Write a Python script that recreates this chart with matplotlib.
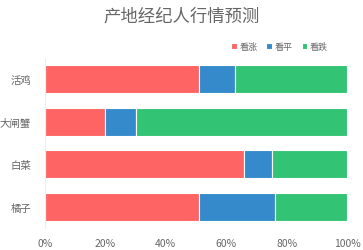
import matplotlib
matplotlib.use("Agg")
import matplotlib.pyplot as plt
import numpy as np

plt.rcParams['font.family'] = ['Noto Sans CJK SC', 'DejaVu Sans']

# 数据 (百分比)
categories = ["活鸡", "大闸蟹", "白菜", "橘子"]
series_names = ["看涨", "看平", "看跌"]
up = [51, 20, 66, 51]
flat = [12, 10, 9, 25]
down = [37, 70, 25, 24]
colors = ["#FF6464", "#358ACB", "#33C374"]

fig = plt.figure(figsize=(3.63, 2.51), dpi=100)
ax = fig.add_axes([45/363, 0.0857, 302/363, 0.681])

y = np.arange(len(categories))
left = np.zeros(len(categories))
for name, vals, c in zip(series_names, [up, flat, down], colors):
    ax.barh(y, vals, left=left, height=0.66, color=c, edgecolor="white",
            linewidth=0.8, label=name)
    left += np.array(vals)

ax.set_xlim(0, 100)
ax.set_ylim(len(categories) - 0.5, -0.5)
ax.set_yticks(y)
ax.set_yticklabels(categories)
ax.set_xticks(np.arange(0, 101, 20))
ax.set_xticklabels([f"{v}%" for v in range(0, 101, 20)])
ax.tick_params(axis="both", length=0, labelsize=7.5, labelcolor="#666666")
ax.tick_params(axis="x", pad=7)
ax.tick_params(axis="y", pad=10)
for s in ["top", "right", "bottom"]:
    ax.spines[s].set_visible(False)
ax.spines["left"].set_color("#eeeeee")

fig.suptitle("产地经纪人行情预测", x=0.5, y=0.97, fontsize=12.5, color="#666666")
fig.legend(loc="upper right", bbox_to_anchor=(0.925, 0.86), ncol=3,
           frameon=False, fontsize=6.5, labelcolor="#666666",
           handlelength=0.6, handleheight=0.6, handletextpad=0.3,
           columnspacing=1.0)

fig.savefig("out.png", dpi=100)
